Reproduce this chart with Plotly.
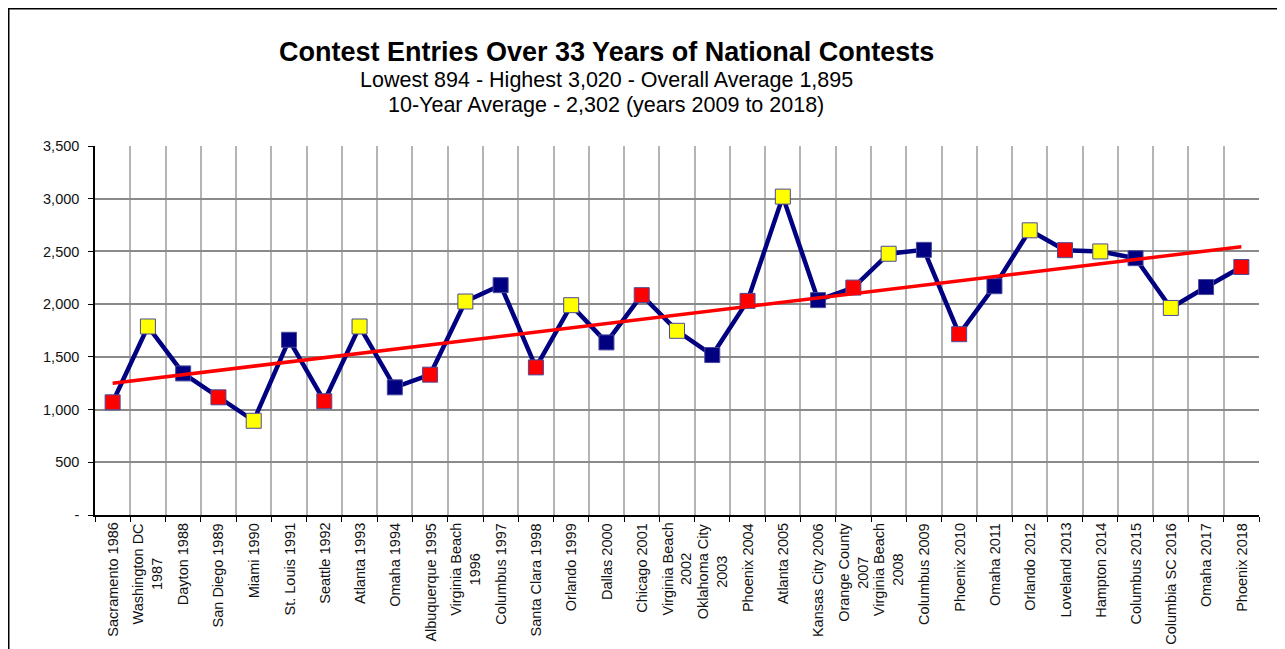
import numpy as np
import plotly.graph_objects as go

categories = [
    "Sacramento 1986", "Washington DC<br>1987", "Dayton 1988", "San Diego 1989",
    "Miami 1990", "St. Louis 1991", "Seattle 1992", "Atlanta 1993", "Omaha 1994",
    "Albuquerque 1995", "Virginia Beach<br>1996", "Columbus 1997", "Santa Clara 1998",
    "Orlando 1999", "Dallas 2000", "Chicago 2001", "Virginia Beach<br>2002",
    "Oklahoma City<br>2003", "Phoenix 2004", "Atlanta 2005", "Kansas City 2006",
    "Orange County<br>2007", "Virginia Beach<br>2008", "Columbus 2009", "Phoenix 2010",
    "Omaha 2011", "Orlando 2012", "Loveland 2013", "Hampton 2014", "Columbus 2015",
    "Columbia SC 2016", "Omaha 2017", "Phoenix 2018",
]
entries = [
    1069, 1788, 1343, 1116, 894, 1662, 1079, 1788, 1211, 1331, 2025,
    2180, 1400, 1990, 1637, 2085, 1747, 1517, 2031, 3020, 2038, 2157,
    2478, 2515, 1715, 2170, 2700, 2512, 2500, 2436, 1964, 2162, 2352,
]
marker_colors = [
    "red", "yellow", "navy", "red", "yellow", "navy", "red", "yellow", "navy",
    "red", "yellow", "navy", "red", "yellow", "navy", "red", "yellow", "navy",
    "red", "yellow", "navy", "red", "yellow", "navy", "red", "navy", "yellow",
    "red", "yellow", "navy", "yellow", "navy", "red",
]
ytick_vals = [0, 500, 1000, 1500, 2000, 2500, 3000, 3500]
ytick_text = ["-", "500", "1,000", "1,500", "2,000", "2,500", "3,000", "3,500"]

title_lines = [
    "<b>Contest Entries Over 33 Years of National Contests</b>",
    "Lowest 894 - Highest 3,020 - Overall Average 1,895",
    "10-Year Average - 2,302 (years 2009 to 2018)",
]

color_map = {"red": "#FF0000", "yellow": "#FFFF00", "navy": "#000080"}

# linear trendline from the data
idx = np.arange(len(entries))
slope, intercept = np.polyfit(idx, entries, 1)
trend = slope * idx + intercept

FONT = "Liberation Sans, Arial, sans-serif"

fig = go.Figure()
fig.add_trace(go.Scatter(
    x=categories, y=entries, mode="lines+markers",
    line=dict(color="#000080", width=4.5),
    marker=dict(symbol="square", size=15,
                color=[color_map[c] for c in marker_colors],
                line=dict(color="#4a4a9a", width=1)),
    showlegend=False, hoverinfo="x+y",
))
fig.add_trace(go.Scatter(
    x=categories, y=trend, mode="lines",
    line=dict(color="#FF0000", width=3.5),
    showlegend=False, hoverinfo="skip",
))

OFF = 8  # page body margin
W, H = 1285 - OFF, 649 - OFF
L = 95 - OFF
T = 146 - OFF
B = H - (515 - OFF)
R = W - (1259 - OFF)
pw, ph = W - L - R, H - T - B

def py(ypix):
    return (H - B - (ypix - OFF)) / ph

def px(xpix):
    return (xpix - OFF - L) / pw

for text, yy, size in zip(title_lines, [52, 80, 105], [27, 21.5, 21.5]):
    fig.add_annotation(text=text, xref="paper", yref="paper",
                       x=px(606), y=py(yy), xanchor="center", yanchor="middle",
                       showarrow=False, font=dict(family=FONT, size=size, color="#000"))

# category labels, rotated, lines centred
for cat in categories:
    fig.add_annotation(text=cat, xref="x", yref="paper", x=cat, y=0,
                       xanchor="center", yanchor="top", yshift=-6,
                       textangle=-90, align="center", showarrow=False,
                       font=dict(family=FONT, size=14.5, color="#111"))

# outer chart frame
fig.add_shape(type="rect", xref="paper", yref="paper",
              x0=px(8.75), x1=px(1279), y0=py(700), y1=py(8.75),
              line=dict(color="#000", width=1.5), fillcolor="rgba(0,0,0,0)", layer="above")

fig.update_layout(
    width=W, height=H,
    margin=dict(l=L, r=R, t=T, b=B, autoexpand=False),
    paper_bgcolor="white", plot_bgcolor="white",
    font=dict(family=FONT, size=14.5, color="#111"),
    xaxis=dict(
        type="category", range=[-0.5, len(categories) - 0.5],
        tickson="boundaries", ticks="outside", ticklen=5, tickcolor="#000",
        showticklabels=False, showgrid=True, gridcolor="#b4b4b4", gridwidth=1.5,
        showline=True, linecolor="#000", linewidth=1.5,
    ),
    yaxis=dict(
        range=[0, 3500], tickvals=ytick_vals, ticktext=ytick_text,
        ticks="outside", ticklen=5, tickcolor="#000",
        showgrid=True, gridcolor="#8a8a8a", gridwidth=2,
        showline=True, linecolor="#000", linewidth=1.5,
        tickfont=dict(family=FONT, size=14.5, color="#111"),
        zeroline=False, ticklabelstandoff=6,
    ),
)

fig.write_html("out.html")
